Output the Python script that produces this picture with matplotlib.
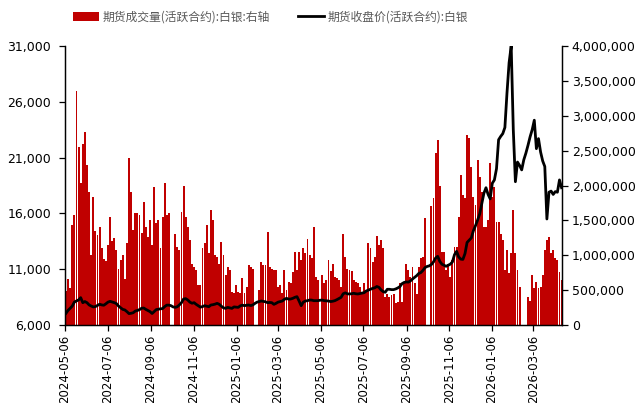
import numpy as np
import pandas as pd
import matplotlib
matplotlib.use("Agg")
import matplotlib.pyplot as plt
from matplotlib.ticker import FuncFormatter
from matplotlib.patches import Patch
from matplotlib.lines import Line2D

plt.rcParams['font.family'] = ['DejaVu Sans']

# samples every 3 calendar days from 2024-05-06
start_date = '2024-05-06'
n_points = 237

# futures volume (active contract), unit: 10k lots; 0 = holiday, no trading
volume_wan = [
    49, 66, 53, 143, 158, 335, 255, 203, 260, 277,
    230, 190, 100, 183, 135, 129, 140, 110, 95, 92,
    115, 155, 120, 125, 108, 80, 93, 100, 66, 117,
    240, 190, 136, 160, 160, 158, 132, 176, 140, 126,
    150, 115, 198, 146, 150, 110, 155, 203, 158,
    160, 0, 0, 131, 112, 108, 162, 200, 155, 141,
    122, 88, 83, 79, 57, 57, 110, 117, 143, 103,
    165, 150, 100, 98, 88, 119, 100, 72, 83, 79,
    48, 46, 57, 48, 46, 67, 46, 55, 86, 83,
    81, 0, 0, 50, 90, 86, 86,
    134, 83, 81, 79, 79, 55, 57, 46, 79, 50,
    62, 60, 76, 105, 79, 105, 93, 110, 103, 124,
    100, 96, 140, 69, 65, 0, 72, 60, 65, 93,
    77, 88, 69, 67, 65, 55, 131, 98, 81, 79,
    77, 65, 62, 60, 55, 48, 60,
    50, 117, 110, 91, 98, 127, 115, 122, 110, 40,
    45, 40, 43, 45, 31, 33, 60, 33, 60, 88,
    79, 69, 83, 60, 45, 83, 96, 98, 153, 0,
    0, 170, 182, 246, 265, 200, 105, 105, 79, 88,
    69, 93, 112, 112, 155, 215, 186, 182,
    272, 268, 227, 184, 172, 237, 212, 191, 141, 141,
    150, 232, 184, 198, 148, 148, 131, 122, 79, 108,
    74, 103, 165, 103, 79, 55, 0, 0, 0, 40,
    35, 72, 53, 62, 53, 55, 72, 108, 122, 126,
    103, 108, 96, 93, 76, 65,
]

# futures close price (active contract), yuan/kg
price = [
    7050, 7320, 7500, 7700, 8060, 8150, 8250, 8450, 8000, 8100,
    8000, 7800, 7700, 7620, 7650, 7750, 7860, 7800, 7770, 7900,
    8050, 8120, 8060, 8000, 7920, 7700, 7550, 7400, 7350, 7200,
    7020, 7050, 7100, 7250, 7300, 7380, 7500, 7520, 7400, 7300,
    7200, 7030, 7200, 7380, 7420, 7450, 7470, 7650, 7780,
    7780, 7730, 7620, 7580, 7640, 7800, 8000, 8330, 8360, 8240,
    8050, 7950, 8000, 7850, 7720, 7600, 7650, 7730, 7680, 7640,
    7790, 7820, 7870, 7940, 7850, 7680, 7540, 7490, 7580, 7530,
    7490, 7620, 7600, 7580, 7720, 7780, 7730, 7770, 7790, 7740,
    7800, 7940, 8050, 8100, 8150, 8120, 8080,
    8000, 8020, 8000, 7850, 7940, 8050, 8100, 8150, 8300, 8390,
    8320, 8330, 8390, 8480, 8540, 8150, 7730, 8050, 8150, 8180,
    8240, 8230, 8180, 8180, 8180, 8220, 8230, 8180, 8160, 8150,
    8100, 8130, 8180, 8270, 8380, 8480, 8800, 8880, 8790, 8780,
    8800, 8840, 8800, 8780, 8820, 8860, 8900,
    9050, 9130, 9210, 9280, 9330, 9450, 9380, 9150, 9000, 8930,
    9200, 9200, 9170, 9170, 9230, 9320, 9440, 9700, 9810, 9860,
    9840, 9950, 10120, 10270, 10420, 10620, 10700, 10900, 11150, 11250,
    11300, 11420, 11650, 12000, 12150, 11700, 11450, 11350, 11260, 11350,
    11450, 11650, 12300, 12600, 12100, 11900, 11880, 12400,
    13400, 13600, 13800, 14450, 14900, 15400, 15950, 16900, 17800, 18300,
    17700, 17300, 18700, 19000, 20000, 22600, 22900, 23150, 23700, 26800,
    29500, 31000, 23500, 18840, 20600, 20300, 19900, 20800, 21400, 22100,
    22860, 23500, 24350, 21800, 22700, 21500, 20700, 20200, 15500, 17900,
    18000, 17700, 17950, 17900, 19000, 18300,
]

xtick_labels = ['2024-05-06', '2024-07-06', '2024-09-06', '2024-11-06',
                '2025-01-06', '2025-03-06', '2025-05-06', '2025-07-06',
                '2025-09-06', '2025-11-06', '2026-01-06', '2026-03-06']

label_vol = '期货成交量(活跃合约):白银:右轴'
label_price = '期货收盘价(活跃合约):白银'

dates = pd.date_range(start_date, periods=n_points, freq='3D')
volume = np.array(volume_wan, dtype=float) * 1e4

fig = plt.figure(figsize=(6.35, 4.03), dpi=100)
ax = fig.add_axes([65 / 635, 78 / 403, 497 / 635, 279 / 403])
ax2 = ax.twinx()
ax.set_zorder(2)
ax.patch.set_visible(False)

ax2.bar(dates, volume, width=2.85, align='edge', color='#C00000', linewidth=0)
ax.plot(dates + pd.Timedelta(hours=34), price, color='black', lw=2.0,
        solid_joinstyle='round')

ax.set_xlim(pd.Timestamp('2024-05-06'), pd.Timestamp('2026-04-16'))
ax.set_ylim(6000, 31000)
ax.set_yticks(np.arange(6000, 31001, 5000))
ax2.set_ylim(0, 4000000)
ax2.set_yticks(np.arange(0, 4000001, 500000))
fmt = FuncFormatter(lambda v, p: f'{v:,.0f}')
ax.yaxis.set_major_formatter(fmt)
ax2.yaxis.set_major_formatter(fmt)

ax.set_xticks(pd.to_datetime(xtick_labels))
ax.set_xticklabels(xtick_labels, rotation=90)

for a in (ax, ax2):
    a.spines['top'].set_visible(False)
    for s in ('left', 'right', 'bottom'):
        a.spines[s].set_linewidth(0.9)
ax.tick_params(axis='y', labelsize=9, length=4, width=0.9, pad=6)
ax.tick_params(axis='x', labelsize=8.5, length=4, width=0.9, pad=3)
ax2.tick_params(axis='y', labelsize=9, length=4, width=0.9, pad=3)

handles = [Patch(facecolor='#C00000', edgecolor='none'),
           Line2D([0], [0], color='black', lw=2.0)]
fig.legend(handles, [label_vol, label_price], loc='upper left',
           bbox_to_anchor=(0.098, 1.0), ncol=2, frameon=False,
           prop={'family': ['Noto Sans CJK SC', 'DejaVu Sans'], 'size': 8.5},
           labelcolor='#595959', handlelength=2.2, handletextpad=0.3,
           columnspacing=2.4)

fig.savefig('out.png', dpi=100)
